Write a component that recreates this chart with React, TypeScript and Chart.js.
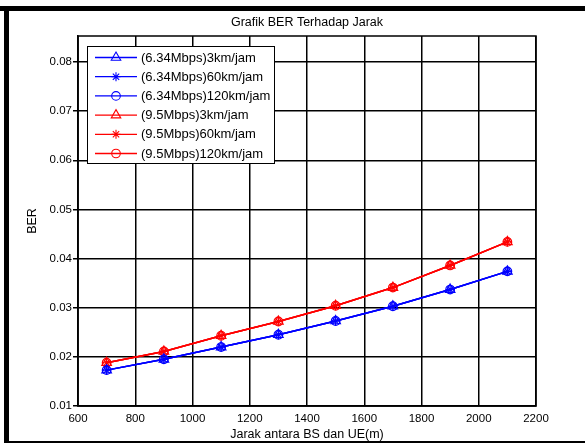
import { useEffect, useRef } from "react";
import { Chart, registerables } from "chart.js";

Chart.register(...registerables);

const distances = [700, 900, 1100, 1300, 1500, 1700, 1900, 2100];
const ber634_3 = [0.0173, 0.0195, 0.022, 0.0245, 0.0273, 0.0303, 0.0337, 0.0374];
const ber634_60 = [0.0173, 0.0195, 0.022, 0.0245, 0.0273, 0.0303, 0.0337, 0.0374];
const ber634_120 = [0.0173, 0.0195, 0.022, 0.0245, 0.0273, 0.0303, 0.0337, 0.0374];
const ber95_3 = [0.0188, 0.0211, 0.0243, 0.0272, 0.0304, 0.0341, 0.0386, 0.0434];
const ber95_60 = [0.0188, 0.0211, 0.0243, 0.0272, 0.0304, 0.0341, 0.0386, 0.0434];
const ber95_120 = [0.0188, 0.0211, 0.0243, 0.0272, 0.0304, 0.0341, 0.0386, 0.0434];

const seriesLabels = [
  "(6.34Mbps)3km/jam",
  "(6.34Mbps)60km/jam",
  "(6.34Mbps)120km/jam",
  "(9.5Mbps)3km/jam",
  "(9.5Mbps)60km/jam",
  "(9.5Mbps)120km/jam",
];
const xTickValues = [600, 800, 1000, 1200, 1400, 1600, 1800, 2000, 2200];
const yTickValues = [0.01, 0.02, 0.03, 0.04, 0.05, 0.06, 0.07, 0.08];
const titleText = "Grafik BER Terhadap Jarak";
const xLabelText = "Jarak antara BS dan UE(m)";
const yLabelText = "BER";

const FONT = "'Liberation Sans', Arial, sans-serif";
const BLUE = "#0000ff";
const RED = "#ff0000";

type Style = "triangle" | "star" | "circle";
const styles: Style[] = ["triangle", "star", "circle", "triangle", "star", "circle"];
const colors = [BLUE, BLUE, BLUE, RED, RED, RED];
const radii: Record<Style, number> = { triangle: 5.5, star: 4.5, circle: 4.3 };
const seriesData = [ber634_3, ber634_60, ber634_120, ber95_3, ber95_60, ber95_120];

function drawMarker(ctx: CanvasRenderingContext2D, style: Style, x: number, y: number, r: number) {
  ctx.beginPath();
  if (style === "triangle") {
    let rad = 0;
    ctx.moveTo(x + Math.sin(rad) * r, y - Math.cos(rad) * r);
    rad += (2 * Math.PI) / 3;
    ctx.lineTo(x + Math.sin(rad) * r, y - Math.cos(rad) * r);
    rad += (2 * Math.PI) / 3;
    ctx.lineTo(x + Math.sin(rad) * r, y - Math.cos(rad) * r);
    ctx.closePath();
  } else if (style === "circle") {
    ctx.arc(x, y, r, 0, Math.PI * 2);
  } else {
    ctx.moveTo(x - r, y);
    ctx.lineTo(x + r, y);
    ctx.moveTo(x, y - r);
    ctx.lineTo(x, y + r);
    const d = r * Math.SQRT1_2;
    ctx.moveTo(x - d, y - d);
    ctx.lineTo(x + d, y + d);
    ctx.moveTo(x - d, y + d);
    ctx.lineTo(x + d, y - d);
  }
  ctx.stroke();
}

const decorPlugin = {
  id: "decor",
  afterDraw(chart: any) {
    const ctx: CanvasRenderingContext2D = chart.ctx;
    const a = chart.chartArea;
    ctx.save();
    // axes box
    ctx.strokeStyle = "#000";
    ctx.lineWidth = 1.5;
    ctx.strokeRect(a.left, a.top, a.right - a.left, a.bottom - a.top);

    // figure frame
    ctx.fillStyle = "#000";
    ctx.fillRect(0, 6, 585, 5);
    ctx.fillRect(4, 6, 5, 437);
    ctx.fillRect(4, 441, 581, 2);

    // title
    ctx.fillStyle = "#000";
    ctx.font = `12.5px ${FONT}`;
    ctx.textAlign = "center";
    ctx.textBaseline = "middle";
    ctx.fillText(titleText, (a.left + a.right) / 2, 23);
    // x label
    ctx.fillText(xLabelText, (a.left + a.right) / 2, 435);
    // y label
    ctx.save();
    ctx.translate(33, (a.top + a.bottom) / 2);
    ctx.rotate(-Math.PI / 2);
    ctx.fillText(yLabelText, 0, 0);
    ctx.restore();

    // legend
    const lx = 87.5, ly = 46.5, lw = 187, lh = 117;
    ctx.fillStyle = "#fff";
    ctx.fillRect(lx, ly, lw, lh);
    ctx.strokeStyle = "#000";
    ctx.lineWidth = 1;
    ctx.strokeRect(lx, ly, lw, lh);
    ctx.font = `13px ${FONT}`;
    ctx.textAlign = "left";
    ctx.textBaseline = "middle";
    for (let i = 0; i < seriesLabels.length; i++) {
      const yy = 57.5 + i * 19.2;
      ctx.strokeStyle = colors[i];
      ctx.lineWidth = 1.3;
      ctx.beginPath();
      ctx.moveTo(95, yy);
      ctx.lineTo(137, yy);
      ctx.stroke();
      ctx.lineWidth = 1.1;
      drawMarker(ctx, styles[i], 116, yy, radii[styles[i]]);
      ctx.fillStyle = "#000";
      ctx.fillText(seriesLabels[i], 141, yy + 0.5);
    }
    ctx.restore();
  },
};

export default function App() {
  const ref = useRef<HTMLCanvasElement>(null);
  useEffect(() => {
    const datasets = seriesData.map((vals, i) => ({
      label: seriesLabels[i],
      data: distances.map((d, j) => ({ x: d, y: vals[j] })),
      borderColor: colors[i],
      borderWidth: 1.5,
      pointStyle: styles[i],
      pointRadius: radii[styles[i]],
      pointBorderColor: colors[i],
      pointBackgroundColor: "rgba(0,0,0,0)",
      pointBorderWidth: 1.2,
      fill: false,
      tension: 0,
    }));
    const chart = new Chart(ref.current as HTMLCanvasElement, {
      type: "line",
      data: { datasets },
      options: {
        animation: false,
        responsive: false,
        devicePixelRatio: 1,
        layout: { padding: { left: 10, top: 36, right: 49, bottom: 0 } },
        plugins: {
          legend: { display: false },
          title: { display: false },
          tooltip: { enabled: false },
        },
        scales: {
          x: {
            type: "linear",
            min: 600,
            max: 2200,
            afterBuildTicks: (s: any) => {
              s.ticks = xTickValues.map((v) => ({ value: v }));
            },
            afterFit: (s: any) => {
              s.height = 37;
            },
            grid: { color: "#000", lineWidth: 1.5, drawTicks: false },
            border: { display: true, color: "#000", width: 1.5 },
            ticks: {
              color: "#000",
              font: { family: FONT, size: 11.5 },
              padding: 6,
              maxRotation: 0,
              callback: (v: any) => String(v),
            },
          },
          y: {
            type: "linear",
            min: 0.01,
            max: 0.0853,
            afterBuildTicks: (s: any) => {
              s.ticks = yTickValues.map((v) => ({ value: v }));
            },
            afterFit: (s: any) => {
              s.width = 68;
            },
            grid: { color: "#000", lineWidth: 1.5, drawTicks: true, tickLength: 5 },
            border: { display: true, color: "#000", width: 1.5 },
            ticks: {
              color: "#000",
              font: { family: FONT, size: 11.5 },
              padding: 1,
              callback: (v: any) => Number(v).toFixed(2),
            },
          },
        },
      },
      plugins: [decorPlugin],
    });
    return () => chart.destroy();
  }, []);
  return (
    <div style={{ position: "absolute", left: 0, top: 0, width: 585, height: 443, background: "#fff" }}>
      <canvas ref={ref} width={585} height={443} style={{ display: "block", width: 585, height: 443 }} />
    </div>
  );
}
